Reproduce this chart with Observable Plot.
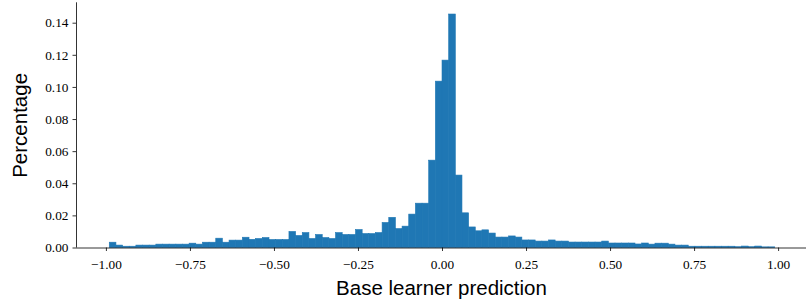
<!DOCTYPE html>
<html>
<head>
<meta charset="utf-8">
<script src="https://cdn.jsdelivr.net/npm/d3@7"></script>
<script src="https://cdn.jsdelivr.net/npm/@observablehq/plot@0.6"></script>
<style>
  html, body { margin: 0; padding: 0; background: #fff; }
  #chart { width: 806px; height: 302px; }
</style>
</head>
<body>
<div id="chart"></div>
<script>
// Histogram: 100 bins spanning [binLo, binHi]
const binLo = -0.99;
const binHi = 0.99;
const percentages = [
  0.0033, 0.0015, 0.0008, 0.0008, 0.0015, 0.0015, 0.0015, 0.0021, 0.0021, 0.0021,
  0.0021, 0.0021, 0.0027, 0.0021, 0.0033, 0.0033, 0.0058, 0.0033, 0.0046, 0.0046,
  0.0064, 0.0051, 0.0056, 0.0062, 0.0050, 0.0050, 0.0050, 0.0100, 0.0075, 0.0093,
  0.0056, 0.0081, 0.0062, 0.0056, 0.0093, 0.0081, 0.0081, 0.0112, 0.0087, 0.0087,
  0.0093, 0.0156, 0.0188, 0.0118, 0.0133, 0.0208, 0.0276, 0.0276, 0.0544, 0.1036,
  0.1167, 0.1454, 0.0451, 0.0216, 0.0128, 0.0104, 0.0110, 0.0090, 0.0065, 0.0065,
  0.0072, 0.0065, 0.0047, 0.0047, 0.0040, 0.0040, 0.0047, 0.0040, 0.0040, 0.0034,
  0.0034, 0.0034, 0.0034, 0.0034, 0.0040, 0.0028, 0.0028, 0.0028, 0.0028, 0.0022,
  0.0028, 0.0021, 0.0027, 0.0027, 0.0021, 0.0015, 0.0015, 0.0008, 0.0008, 0.0008,
  0.0008, 0.0008, 0.0008, 0.0008, 0.0005, 0.0009, 0.0005, 0.0009, 0.0004, 0.0004
];
const xTicks = [-1, -0.75, -0.5, -0.25, 0, 0.25, 0.5, 0.75, 1];
const yTicks = [0, 0.02, 0.04, 0.06, 0.08, 0.10, 0.12, 0.14];
const xLabel = "Base learner prediction";
const yLabel = "Percentage";

const binWidth = (binHi - binLo) / percentages.length;
const bins = percentages.map((v, i) => ({
  x1: binLo + i * binWidth,
  x2: binLo + (i + 1) * binWidth,
  y: v
}));

const xDomain = [-1.089, 1.083];
const yDomain = [0, 0.1527];
const serif = "'Liberation Serif', 'DejaVu Serif', serif";
const sans = "'Liberation Sans', 'DejaVu Sans', sans-serif";

const chart = Plot.plot({
  width: 806,
  height: 302,
  marginLeft: 76,
  marginRight: 0,
  marginTop: 2.3,
  marginBottom: 54.5,
  style: { background: "#fff", overflow: "visible" },
  x: { domain: xDomain },
  y: { domain: yDomain },
  marks: [
    Plot.rectY(bins, { x1: "x1", x2: "x2", y: "y", fill: "#1f77b4", stroke: "#1f77b4", strokeWidth: 0.6 }),
    Plot.axisX({
      ticks: xTicks, tickFormat: d3.format(".2f"), tickSize: 3.5, tickPadding: 8,
      fontSize: 13.3, fontFamily: serif, label: null, stroke: "#000", strokeWidth: 0.8, fill: "#000"
    }),
    Plot.axisY({
      ticks: yTicks, tickFormat: d3.format(".2f"), tickSize: 3.5, tickPadding: 4.5,
      fontSize: 13.3, fontFamily: serif, label: null, stroke: "#000", strokeWidth: 0.8, fill: "#000"
    }),
    Plot.ruleY([0], { x1: xDomain[0], x2: xDomain[1], stroke: "#000", strokeWidth: 0.8 }),
    Plot.ruleX([xDomain[0]], { y1: yDomain[0], y2: yDomain[1], stroke: "#000", strokeWidth: 0.8 }),
    Plot.text([xLabel], {
      frameAnchor: "bottom", dy: 40, text: d => d, fontSize: 20.5, fontFamily: sans,
      fill: "#000", lineAnchor: "middle", textAnchor: "middle"
    }),
    Plot.text([yLabel], {
      frameAnchor: "left", dx: -56, rotate: -90, text: d => d, fontSize: 20.5, fontFamily: sans,
      fill: "#000", lineAnchor: "middle", textAnchor: "middle"
    })
  ]
});
document.getElementById("chart").appendChild(chart);
</script>
</body>
</html>
